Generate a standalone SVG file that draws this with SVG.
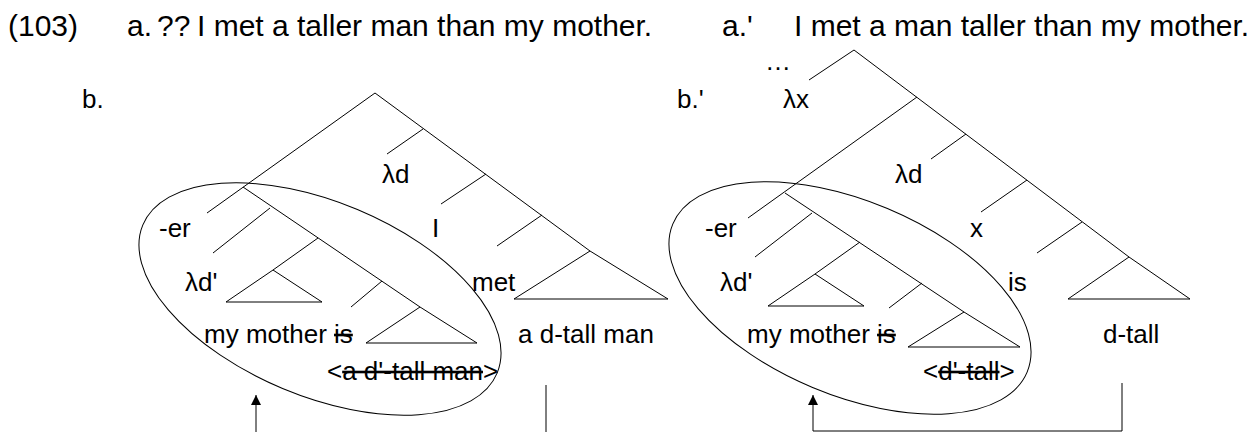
<svg xmlns="http://www.w3.org/2000/svg" width="1253" height="432" viewBox="0 0 1253 432">
<style>
text{font-family:"Liberation Sans",Arial,sans-serif;fill:#000}
.h{font-size:30px}
.t{font-size:26px}
.s{text-decoration:line-through}
line,polyline,polygon,ellipse{stroke:#000;stroke-width:1;fill:none}
</style>
<defs>
<marker id="arr" viewBox="0 0 10 10" refX="10" refY="5" markerWidth="10" markerHeight="10" markerUnits="userSpaceOnUse" orient="auto"><path d="M0,0 L10,5 L0,10 z" fill="#000" stroke="none"/></marker>
</defs>
<rect width="1253" height="432" fill="#fff"/>
<g id="header">
<text class="h" x="8" y="36">(103)</text>
<text class="h" x="127" y="36">a.</text>
<text class="h" x="157" y="36">??</text>
<text class="h" x="197" y="36">I met a taller man than my mother.</text>
<text class="h" x="722" y="36">a.'</text>
<text class="h" x="794" y="36">I met a man taller than my mother.</text>
</g>
<g id="connectors">
<!-- tree b -->
<line x1="375" y1="93" x2="207" y2="213"/>
<line x1="375" y1="93" x2="590" y2="251"/>
<line x1="423" y1="129" x2="387" y2="154"/>
<line x1="486" y1="174" x2="441" y2="204"/>
<line x1="542" y1="215" x2="497" y2="246"/>
<polygon points="590,251 514,299 668,299"/>
<line x1="243" y1="187" x2="420" y2="307"/>
<line x1="270" y1="208" x2="213" y2="253"/>
<line x1="318" y1="238" x2="273" y2="270"/>
<polygon points="273,270 226,302 322,302"/>
<line x1="382" y1="281" x2="351" y2="307"/>
<polygon points="420,307 366,343 477,343"/>
<ellipse cx="320" cy="299" rx="192" ry="97" transform="rotate(22.7 320 299)"/>
<!-- tree b' -->
<line x1="854" y1="50" x2="809" y2="80"/>
<line x1="854" y1="50" x2="1129" y2="257"/>
<line x1="917" y1="97" x2="748" y2="218"/>
<line x1="966" y1="134" x2="931" y2="159"/>
<line x1="1027" y1="180" x2="981" y2="212"/>
<line x1="1082" y1="222" x2="1037" y2="253"/>
<polygon points="1129,257 1068,299 1190,299"/>
<line x1="785" y1="193" x2="964" y2="312"/>
<line x1="812" y1="213" x2="755" y2="257"/>
<line x1="860" y1="242" x2="815" y2="274"/>
<polygon points="815,274 768,306 864,306"/>
<line x1="922" y1="283" x2="889" y2="308"/>
<polygon points="964,312 908,347 1020,347"/>
<ellipse cx="850" cy="298" rx="192" ry="97" transform="rotate(22.7 850 298)"/>
<!-- movement arrows -->
<line x1="256" y1="432" x2="256" y2="395" marker-end="url(#arr)"/>
<line x1="546" y1="385" x2="546" y2="432"/>
<polyline points="1122,383 1122,431 813,431 813,395" marker-end="url(#arr)"/>
</g>
<g id="tree-b">
<g id="b-label"><text class="t" x="82" y="108">b.</text></g>
<g id="b-ld"><text class="t" x="382" y="183">λd</text></g>
<g id="b-er"><text class="t" x="159" y="237">-er</text></g>
<g id="b-I"><text class="t" x="432" y="237">I</text></g>
<g id="b-ldp"><text class="t" x="185" y="291">λd'</text></g>
<g id="b-met"><text class="t" x="472" y="291">met</text></g>
<g id="b-mother"><text class="t" x="204" y="343">my mother <tspan class="s">is</tspan></text></g>
<g id="b-dtallman"><text class="t" x="518" y="343">a d-tall man</text></g>
<g id="b-trace"><text class="t" x="327" y="380">&lt;<tspan class="s">a d'-tall man</tspan>&gt;</text></g>
</g>
<g id="tree-bp">
<g id="bp-dots"><text class="t" x="765" y="70">…</text></g>
<g id="bp-label"><text class="t" x="677" y="108">b.'</text></g>
<g id="bp-lx"><text class="t" x="783" y="108">λx</text></g>
<g id="bp-ld"><text class="t" x="895" y="183">λd</text></g>
<g id="bp-er"><text class="t" x="705" y="237">-er</text></g>
<g id="bp-x"><text class="t" x="970" y="237">x</text></g>
<g id="bp-ldp"><text class="t" x="720" y="291">λd'</text></g>
<g id="bp-is"><text class="t" x="1008" y="291">is</text></g>
<g id="bp-mother"><text class="t" x="747" y="343">my mother <tspan class="s">is</tspan></text></g>
<g id="bp-dtall"><text class="t" x="1103" y="343">d-tall</text></g>
<g id="bp-trace"><text class="t" x="923" y="380">&lt;<tspan class="s">d'-tall</tspan>&gt;</text></g>
</g>
</svg>
